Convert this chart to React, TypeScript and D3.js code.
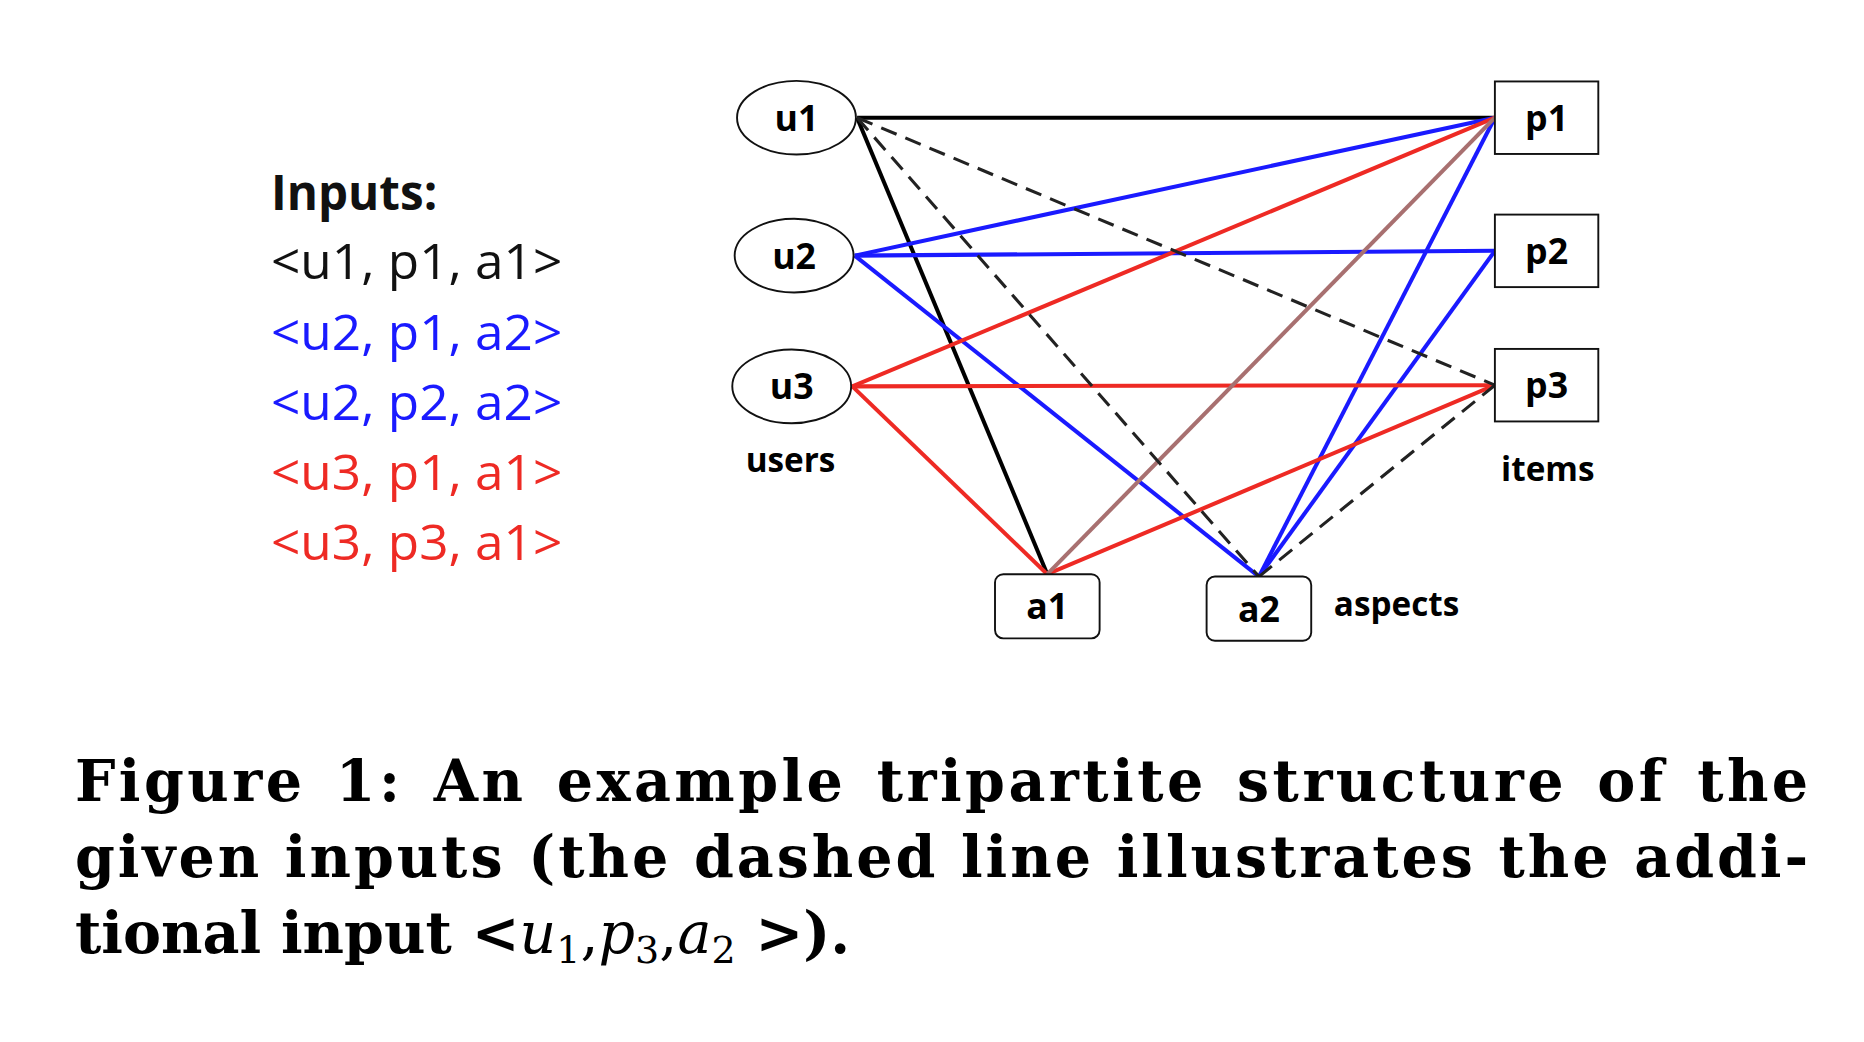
import React from 'react';
import * as d3 from 'd3';

// node positions in the figure's own 1568-wide space
const users = [
  { id: 'u1', x: 670, y: 99 },
  { id: 'u2', x: 668, y: 215 },
  { id: 'u3', x: 666, y: 325 },
];
const items = [
  { id: 'p1', x: 1301, y: 99 },
  { id: 'p2', x: 1301, y: 211 },
  { id: 'p3', x: 1301, y: 324 },
];
const aspects = [
  { id: 'a1', x: 881, y: 510 },
  { id: 'a2', x: 1059, y: 512 },
];
const inputs = [
  { text: '<u1, p1, a1>', color: '#111' },
  { text: '<u2, p1, a2>', color: '#1a1aff' },
  { text: '<u2, p2, a2>', color: '#1a1aff' },
  { text: '<u3, p1, a1>', color: '#ee2a24' },
  { text: '<u3, p3, a1>', color: '#ee2a24' },
];
const edges: [string, string, string, boolean][] = [
  ['u1', 'p1', '#000', false],
  ['u1', 'a1', '#000', false],
  ['u2', 'p1', '#1a1aff', false],
  ['u2', 'p2', '#1a1aff', false],
  ['u2', 'a2', '#1a1aff', false],
  ['a2', 'p1', '#1a1aff', false],
  ['a2', 'p2', '#1a1aff', false],
  ['u3', 'p1', '#ee2a24', false],
  ['u3', 'p3', '#ee2a24', false],
  ['u3', 'a1', '#ee2a24', false],
  ['a1', 'p3', '#ee2a24', false],
  ['a1', 'p1', '#a87070', false],
  ['u1', 'p3', '#222', true],
  ['u1', 'a2', '#222', true],
  ['a2', 'p3', '#222', true],
];

const RX = 50, RY = 31, BW = 87, BH = 61, AW = 88, AH = 54;

function anchor(id: string): [number, number] {
  const u = users.find(n => n.id === id);
  if (u) return [u.x + RX + 1, u.y];
  const p = items.find(n => n.id === id);
  if (p) return [p.x - BW / 2, p.y];
  const a = aspects.find(n => n.id === id)!;
  return [a.x, a.y - AH / 2];
}

const line = d3.line();
const sans = "'Open Sans', 'DejaVu Sans', sans-serif";
const serif = "'DejaVu Serif', 'Liberation Serif', serif";

export default function App() {
  return (
    <svg width={1864} height={1042} viewBox="0 0 1568 876.5"
      style={{ position: 'absolute', left: 0, top: 0, background: '#fff' }}>
      <text x={228} y={177} fontFamily={sans} fontWeight="bold" fontSize={40} fill="#111">Inputs:</text>
      {inputs.map((d, i) => (
        <text key={i} x={228} y={235 + i * 59} fontFamily={sans} fontSize={42} fill={d.color}
          textLength={245} lengthAdjust="spacingAndGlyphs">{d.text}</text>
      ))}

      {edges.map(([a, b, c, dashed], i) => (
        <path key={i} d={line([anchor(a), anchor(b)]) || ''} stroke={c} strokeWidth={dashed ? 2.6 : 3.4}
          fill="none" strokeDasharray={dashed ? '14 8' : undefined} />
      ))}

      {users.map(n => (
        <g key={n.id}>
          <ellipse cx={n.x} cy={n.y} rx={RX} ry={RY} fill="#fff" stroke="#111" strokeWidth={1.6} />
          <text x={n.x} y={n.y + 11} textAnchor="middle" fontFamily={sans} fontWeight="bold" fontSize={30}>{n.id}</text>
        </g>
      ))}
      {items.map(n => (
        <g key={n.id}>
          <rect x={n.x - BW / 2} y={n.y - BH / 2} width={BW} height={BH} fill="#fff" stroke="#111" strokeWidth={1.6} />
          <text x={n.x} y={n.y + 11} textAnchor="middle" fontFamily={sans} fontWeight="bold" fontSize={30}>{n.id}</text>
        </g>
      ))}
      {aspects.map(n => (
        <g key={n.id}>
          <rect x={n.x - AW / 2} y={n.y - AH / 2} width={AW} height={AH} rx={7} fill="#fff" stroke="#111" strokeWidth={1.6} />
          <text x={n.x} y={n.y + 11} textAnchor="middle" fontFamily={sans} fontWeight="bold" fontSize={30}>{n.id}</text>
        </g>
      ))}
      <text x={665} y={397} textAnchor="middle" fontFamily={sans} fontWeight="bold" fontSize={28}>users</text>
      <text x={1302} y={405} textAnchor="middle" fontFamily={sans} fontWeight="bold" fontSize={28}>items</text>
      <text x={1122} y={518} fontFamily={sans} fontWeight="bold" fontSize={28}>aspects</text>

      <text x={63} y={674} fontFamily={serif} fontWeight="bold" fontSize={48} textLength={1458} lengthAdjust="spacing" wordSpacing={6}>
        Figure 1:  An example tripartite structure of the
      </text>
      <text x={63} y={738} fontFamily={serif} fontWeight="bold" fontSize={48} textLength={1458} lengthAdjust="spacing">
        given inputs (the dashed line illustrates the addi-
      </text>
      <text x={63} y={802} fontFamily={serif} fontWeight="bold" fontSize={48}>
        tional input &lt;<tspan fontStyle="italic" fontWeight="normal">u</tspan><tspan fontSize={32} dy={8} fontWeight="normal">1</tspan>
        <tspan dy={-8} fontWeight="normal">,</tspan><tspan fontStyle="italic" fontWeight="normal">p</tspan><tspan fontSize={32} dy={8} fontWeight="normal">3</tspan>
        <tspan dy={-8} fontWeight="normal">,</tspan><tspan fontStyle="italic" fontWeight="normal">a</tspan><tspan fontSize={32} dy={8} fontWeight="normal">2</tspan>
        <tspan dy={-8}> &gt;).</tspan>
      </text>
    </svg>
  );
}
